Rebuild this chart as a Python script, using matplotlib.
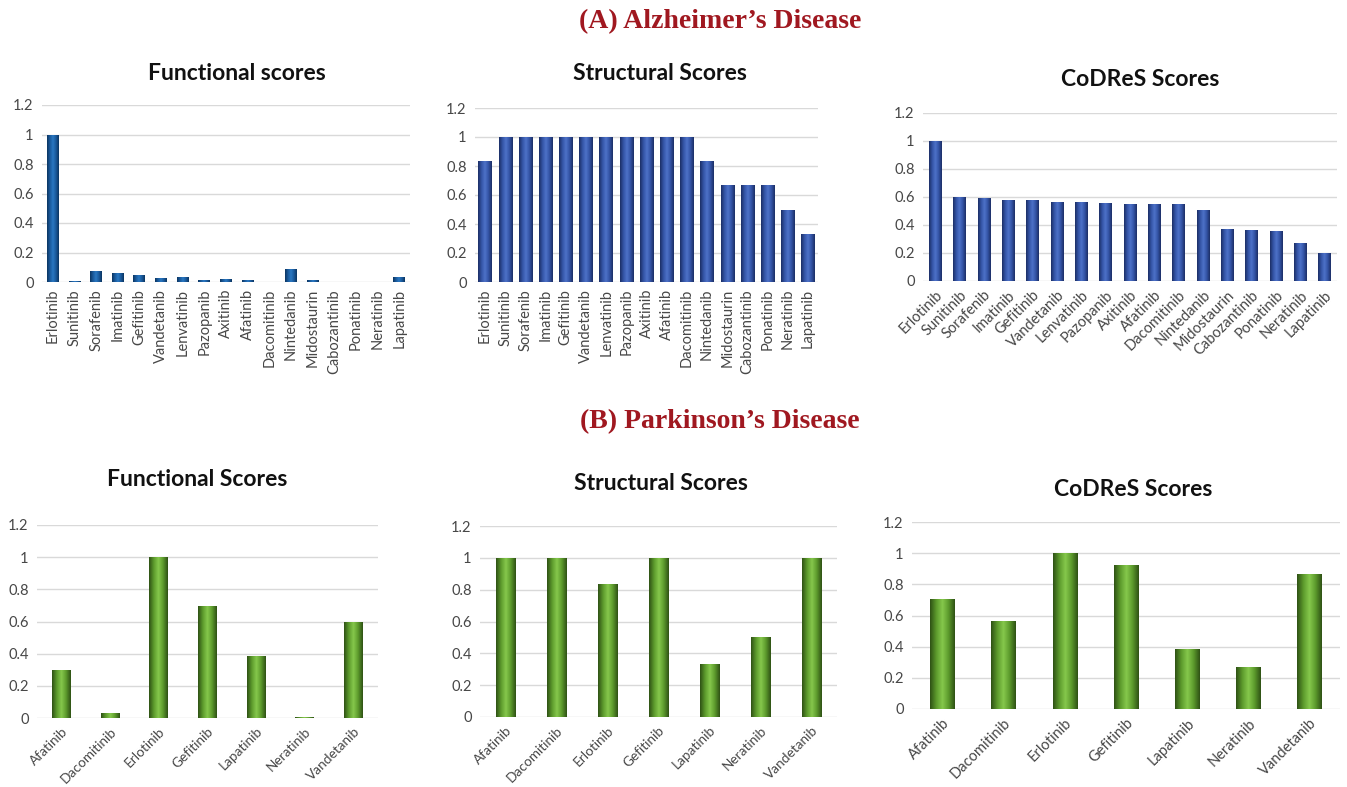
import matplotlib.pyplot as plt
import numpy as np
from matplotlib.colors import LinearSegmentedColormap

# drug lists and scores
ad_drugs = ["Erlotinib", "Sunitinib", "Sorafenib", "Imatinib", "Gefitinib", "Vandetanib",
            "Lenvatinib", "Pazopanib", "Axitinib", "Afatinib", "Dacomitinib", "Nintedanib",
            "Midostaurin", "Cabozantinib", "Ponatinib", "Neratinib", "Lapatinib"]
ad_functional = [1.0, 0.007, 0.077, 0.059, 0.045, 0.027, 0.034, 0.016, 0.018, 0.011,
                 0.0, 0.09, 0.016, 0.0, 0.0, 0.0, 0.034]
ad_structural = [0.833, 1, 1, 1, 1, 1, 1, 1, 1, 1, 1, 0.833, 0.667, 0.667, 0.667, 0.5, 0.333]
ad_codres = [1.0, 0.600, 0.593, 0.577, 0.577, 0.565, 0.565, 0.557, 0.553, 0.553, 0.548,
             0.51, 0.371, 0.364, 0.359, 0.27, 0.199]

pd_drugs = ["Afatinib", "Dacomitinib", "Erlotinib", "Gefitinib", "Lapatinib", "Neratinib", "Vandetanib"]
pd_functional = [0.298, 0.033, 1.0, 0.698, 0.383, 0.004, 0.598]
pd_structural = [1, 1, 0.833, 1, 0.333, 0.5, 1]
pd_codres = [0.704, 0.562, 1.0, 0.921, 0.382, 0.27, 0.865]

yticks = [0, 0.2, 0.4, 0.6, 0.8, 1.0, 1.2]
ytick_labels = ["0", "0.2", "0.4", "0.6", "0.8", "1", "1.2"]

W, H = 1347, 787
fig = plt.figure(figsize=(W / 100, H / 100), dpi=100)

teal_blue = LinearSegmentedColormap.from_list(
    "tb", ["#0b3561", "#1a5a9c", "#2a78c2", "#1a5a9c", "#0b3561"])
royal_blue = LinearSegmentedColormap.from_list(
    "rb", ["#1c2f66", "#3454a6", "#4d72c8", "#3454a6", "#1c2f66"])
green = LinearSegmentedColormap.from_list(
    "gr", ["#2f5215", "#5c9a2c", "#86c84c", "#5c9a2c", "#2f5215"])


def px_axes(left, right, top, bottom):
    return fig.add_axes([left / W, (H - bottom) / H, (right - left) / W, (bottom - top) / H])


def shaded_bars(ax, labels, values, width, cmap, rotation, label_size=10.5):
    tick_font = dict(family="Lato", size=label_size, color="#474747")
    x = np.arange(len(labels))
    bars = ax.bar(x, values, width=width, color=cmap(0.5), zorder=2)
    grad = np.linspace(0, 1, 64).reshape(1, -1)
    for b in bars:
        h = b.get_height()
        if h <= 0:
            continue
        x0 = b.get_x()
        im = ax.imshow(grad, cmap=cmap, aspect="auto", zorder=3,
                       extent=[x0, x0 + b.get_width(), 0, h])
        im.set_clip_path(b)
    ax.set_xlim(-0.5, len(labels) - 0.5)
    ax.set_ylim(0, 1.2)
    ax.set_yticks(yticks)
    ax.set_yticklabels(ytick_labels, family="Lato", size=10.5, color="#474747")
    ax.set_xticks(x)
    if rotation == 90:
        ax.set_xticklabels(labels, rotation=90, **tick_font)
    else:
        ax.set_xticklabels(labels, rotation=45, ha="right", rotation_mode="anchor", **tick_font)
    ax.grid(axis="y", color="#d9d9d9", linewidth=1, zorder=0)
    ax.tick_params(axis="y", length=0, pad=6)
    ax.tick_params(axis="x", length=0, pad=5)
    for s in ax.spines.values():
        s.set_visible(False)


ax = px_axes(42, 410, 105, 282)
shaded_bars(ax, ad_drugs, ad_functional, 0.55, teal_blue, 90)
ax = px_axes(475, 818, 108, 282)
shaded_bars(ax, ad_drugs, ad_structural, 0.66, royal_blue, 90)
ax = px_axes(923, 1337, 113, 281)
shaded_bars(ax, ad_drugs, ad_codres, 0.52, royal_blue, 45)

ax = px_axes(37, 378, 525, 718)
shaded_bars(ax, pd_drugs, pd_functional, 0.39, green, 45, 9.8)
ax = px_axes(480, 837, 526, 717)
shaded_bars(ax, pd_drugs, pd_structural, 0.39, green, 45, 9.8)
ax = px_axes(912, 1340, 522, 709)
shaded_bars(ax, pd_drugs, pd_codres, 0.40, green, 45, 10.5)

# section headings
head = dict(family="Liberation Serif", weight="bold", size=20, color="#a01820",
            ha="center", va="center")
fig.text(720 / W, 1 - 22 / H, "(A) Alzheimer’s Disease", **head)
fig.text(720 / W, 1 - 422 / H, "(B) Parkinson’s Disease", **head)

# panel titles
ptitle = dict(family="Lato", weight="bold", size=16.5, color="#111111", ha="center", va="center")
fig.text(237 / W, 1 - 73 / H, "Functional scores", **ptitle)
fig.text(660 / W, 1 - 73 / H, "Structural Scores", **ptitle)
fig.text(1140 / W, 1 - 80 / H, "CoDReS Scores", **ptitle)
fig.text(197 / W, 1 - 480 / H, "Functional Scores", **ptitle)
fig.text(661 / W, 1 - 483 / H, "Structural Scores", **ptitle)
fig.text(1133 / W, 1 - 490 / H, "CoDReS Scores", **ptitle)

fig.savefig("out.png", dpi=100, facecolor="white")
